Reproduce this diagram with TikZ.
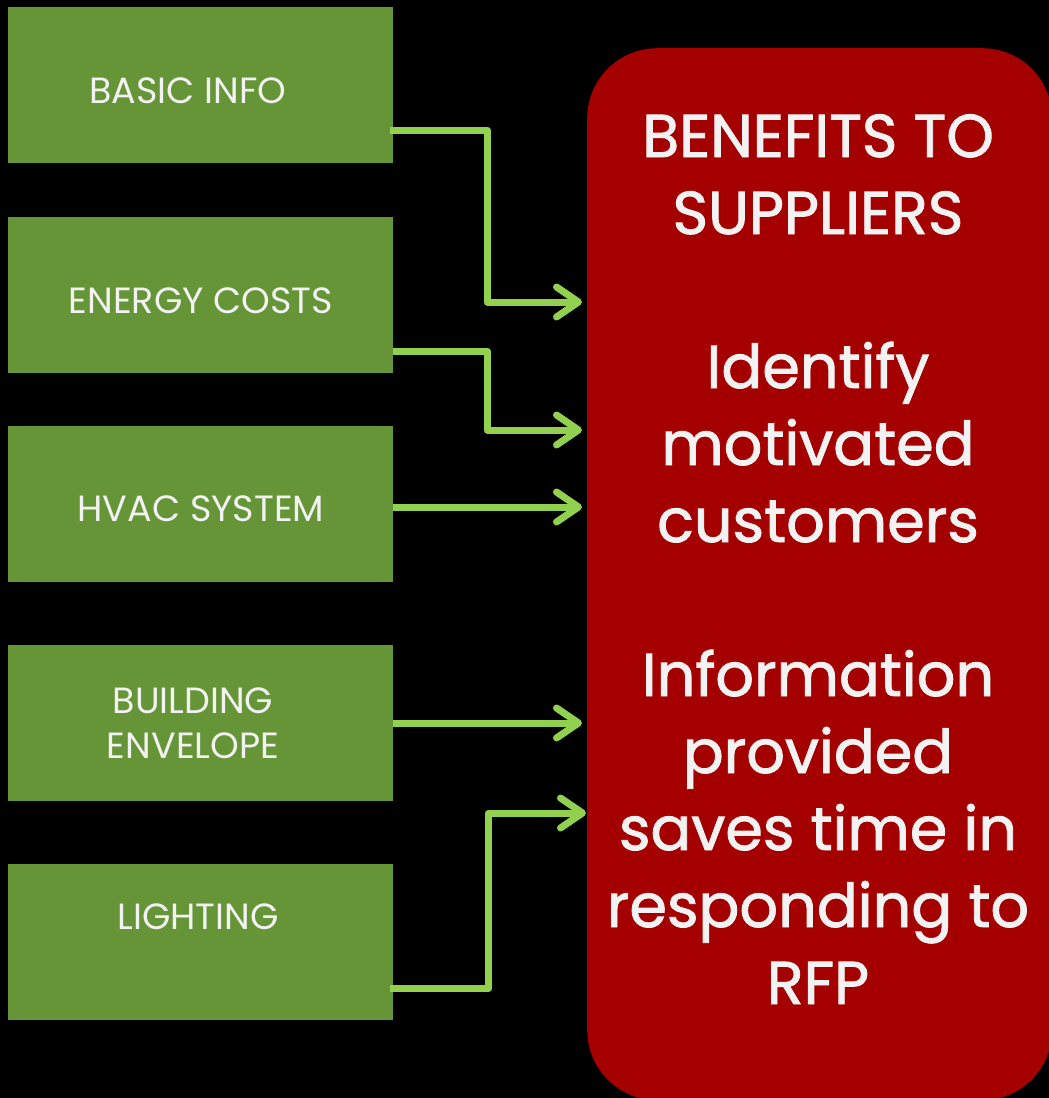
\documentclass[tikz,border=0pt]{standalone}
\usepackage{fontspec}
\setmainfont{Poppins}
\newfontfamily\boldish[FakeBold=1.5]{Poppins}
\usetikzlibrary{arrows.meta}
\definecolor{boxgreen}{HTML}{669538}
\definecolor{boxred}{HTML}{A50000}
\definecolor{arrowgreen}{HTML}{92D050}
\definecolor{txt}{HTML}{F2F2F2}
\begin{document}
\begin{tikzpicture}[x=1pt,y=-1pt,
  inbox/.style={fill=boxgreen, minimum width=385pt, minimum height=156pt, inner sep=0pt, anchor=north west},
  intext/.style={text=txt, font=\fontsize{36.5}{45}\selectfont, inner sep=0pt, anchor=base},
  redtext/.style={text=txt, font=\boldish\fontsize{60.5}{77}\selectfont, inner sep=0pt, anchor=base},
  flow/.style={draw=arrowgreen, line width=7pt, line join=round, -{Straight Barb[length=22pt,width=30pt,round]}}
]
\useasboundingbox (0,0) rectangle (1049,1098);
\fill[black] (0,0) rectangle (1049,1098);
\clip (0,0) rectangle (1049,1098);
% green boxes
\node[inbox] (b1) at (8,7) {};
\node[inbox] (b2) at (8,217) {};
\node[inbox] (b3) at (8,426) {};
\node[inbox] (b4) at (8,645) {};
\node[inbox] (b5) at (8,864) {};
\node[intext] (l1) at (188,103) {BASIC INFO};
\node[intext] (l2) at (201,313) {ENERGY COSTS};
\node[intext] (l3) at (201,521) {HVAC SYSTEM};
\node[intext] (l4a) at (193,713) {BUILDING};
\node[intext] (l4b) at (193,758) {ENVELOPE};
\node[intext] (l5) at (198,929) {LIGHTING};
% red box
\node[fill=boxred, rounded corners=70pt, minimum width=465pt, minimum height=1052pt, inner sep=0pt, anchor=north west] (red) at (587,48) {};
\node[redtext] (r1) at (818,157) {BENEFITS TO};
\node[redtext] (r2) at (818,234) {SUPPLIERS};
\node[redtext] (r3) at (818,388) {Identify};
\node[redtext] (r4) at (818,465) {motivated};
\node[redtext] (r5) at (818,542) {customers};
\node[redtext] (r6) at (818,696) {Information};
\node[redtext] (r7) at (818,773) {provided};
\node[redtext] (r8) at (818,850) {saves time in};
\node[redtext] (r9) at (818,927) {responding to};
\node[redtext] (r10) at (818,1004) {RFP};
% arrow targets
\coordinate (t1) at ([xshift=-5pt,yshift=-254pt]red.north west);
\coordinate (t2) at ([xshift=-5pt,yshift=-382pt]red.north west);
\coordinate (t3) at ([xshift=-5pt,yshift=-459pt]red.north west);
\coordinate (t4) at ([xshift=-5pt,yshift=-675pt]red.north west);
\coordinate (t5) at ([xshift=-1pt,yshift=-765pt]red.north west);
% connectors
\draw[flow] ([xshift=-3pt,yshift=33pt]b1.south east) -- ++(97,0) |- (t1);
\draw[flow] ([yshift=22pt]b2.south east) -- ++(94,0) |- (t2);
\draw[flow] (b3.east |- t3) -- (t3);
\draw[flow] (b4.east |- t4) -- (t4);
\draw[flow] ([xshift=-3pt,yshift=32pt]b5.south east) -- ++(98,0) |- (t5);
\end{tikzpicture}
\end{document}
